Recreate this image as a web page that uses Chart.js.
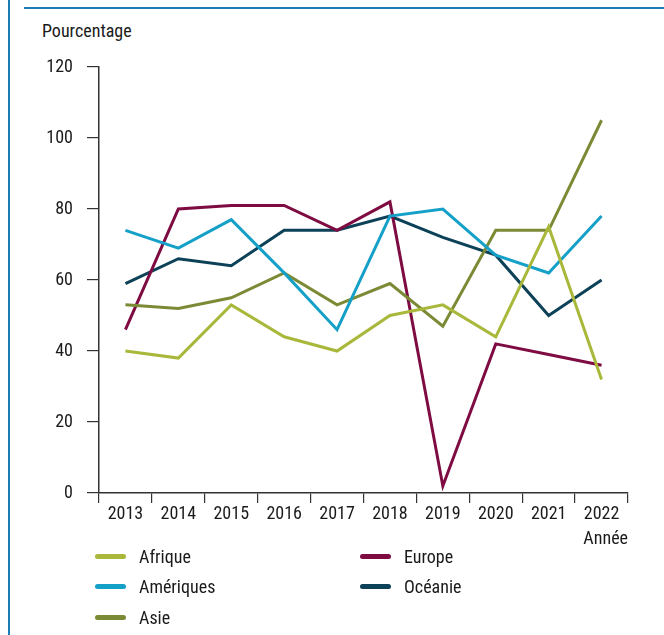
<!DOCTYPE html>
<html>
<head>
<meta charset="utf-8">
<script src="https://cdn.jsdelivr.net/npm/chart.js@4/dist/chart.umd.min.js"></script>
<style>
  body { margin: 0; background: #fff; }
  #wrap { position: relative; width: 664px; height: 635px; overflow: hidden;
          font-family: 'Liberation Sans Narrow', 'Roboto Condensed', Roboto, sans-serif; color: #1a1a1a; }
  #frameLeft { position: absolute; left: 8px; top: 0; width: 2px; height: 635px; background: #1b7db3; }
  #frameTop { position: absolute; left: 24px; top: 7px; width: 640px; height: 2px; background: #1b7db3; }
  #yTitle { position: absolute; left: 42px; top: 20px; font-size: 18px; }
  #chartBox { position: absolute; left: 0; top: 0; width: 664px; height: 550px; }
  #legend { position: absolute; left: 95px; top: 541px; display: grid;
            grid-template-rows: repeat(3, 30.5px); grid-template-columns: 265px auto;
            grid-auto-flow: column; font-size: 18px; }
  .item { display: flex; align-items: center; }
  .sw { width: 31px; height: 5px; border-radius: 3px; margin-right: 13px; }
</style>
</head>
<body>
<div id="wrap">
  <div id="frameLeft"></div>
  <div id="frameTop"></div>
  <div id="yTitle">Pourcentage</div>
  <div id="chartBox"><canvas id="lineChart"></canvas></div>
  <div id="legend"></div>
</div>
<script>
const years = ['2013', '2014', '2015', '2016', '2017', '2018', '2019', '2020', '2021', '2022'];

const afrique   = [40, 38, 53, 44, 40, 50, 53, 44, 75, 32];
const ameriques = [74, 69, 77, 62, 46, 78, 80, 67, 62, 78];
const asie      = [53, 52, 55, 62, 53, 59, 47, 74, 74, 105];
const europe    = [46, 80, 81, 81, 74, 82, 2, 42, 39, 36];
const oceanie   = [59, 66, 64, 74, 74, 78, 72, 67, 50, 60];

const seriesNames = ['Afrique', 'Amériques', 'Asie', 'Europe', 'Océanie'];
const seriesColors = ['#a9b83b', '#15a0c8', '#7b8b35', '#7e0c42', '#0c4157'];
const seriesData = [afrique, ameriques, asie, europe, oceanie];

const fontFamily = "'Liberation Sans Narrow', 'Roboto Condensed', Roboto, sans-serif";
Chart.defaults.font.family = fontFamily;
Chart.defaults.font.size = 18;
Chart.defaults.color = '#1a1a1a';

// draw order: Asie under Afrique, Europe/Océanie in between
const datasets = seriesNames.map((name, i) => ({
    label: name,
    data: seriesData[i],
    borderColor: seriesColors[i],
    backgroundColor: seriesColors[i],
    borderWidth: 3,
    pointRadius: 0,
    tension: 0,
    fill: false
}));

new Chart(document.getElementById('lineChart').getContext('2d'), {
    type: 'line',
    data: { labels: years, datasets: datasets },
    options: {
        responsive: true,
        maintainAspectRatio: false,
        animation: false,
        layout: { padding: { top: 67, right: 36, bottom: 0, left: 0 } },
        scales: {
            x: {
                type: 'category',
                offset: true,
                afterFit: function (scale) { scale.height = 57; },
                grid: { offset: true, drawOnChartArea: false, drawTicks: true, tickLength: 10, color: '#333', lineWidth: 1.2 },
                border: { display: true, color: '#333', width: 1.5 },
                ticks: { padding: 1, maxRotation: 0, autoSkip: false },
                title: { display: true, text: 'Année', align: 'end', padding: { top: 0, bottom: 0 } }
            },
            y: {
                min: 0,
                max: 120,
                afterFit: function (scale) { scale.width = 99; },
                grid: { drawOnChartArea: false, drawTicks: true, tickLength: 12, color: '#333', lineWidth: 1.2 },
                border: { display: true, color: '#333', width: 1.5 },
                ticks: { stepSize: 20, padding: 14 }
            }
        },
        plugins: {
            legend: { display: false },
            tooltip: { enabled: false }
        }
    }
});

// legend in two columns below the chart
const legendBox = document.getElementById('legend');
seriesNames.forEach((name, i) => {
    const item = document.createElement('div');
    item.className = 'item';
    item.innerHTML = '<span class="sw" style="background:' + seriesColors[i] + '"></span><span>' + name + '</span>';
    legendBox.appendChild(item);
});
</script>
</body>
</html>
